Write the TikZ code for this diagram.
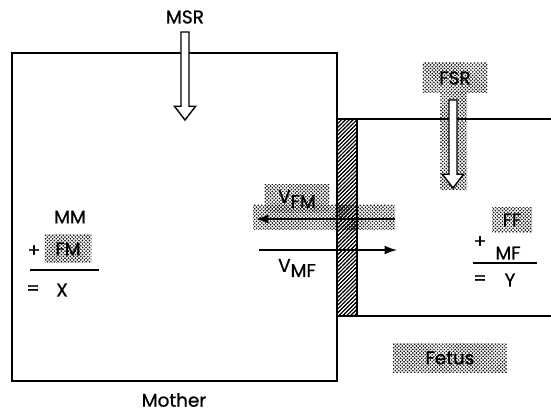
\documentclass[tikz,border=0pt]{standalone}
\usepackage{fontspec}
\setsansfont{Poppins}[BoldFont=Poppins,BoldFeatures={FakeBold=0.9}]
\usepackage{tikz}
\usetikzlibrary{arrows.meta,calc,patterns}
\pgfdeclarepatternformonly{stipple}{\pgfqpoint{-.5pt}{-.5pt}}{\pgfqpoint{1.5pt}{1.5pt}}{\pgfqpoint{2pt}{2pt}}{%
  \pgfpathcircle{\pgfqpoint{0pt}{0pt}}{.55pt}%
  \pgfpathcircle{\pgfqpoint{1pt}{1pt}}{.55pt}%
  \pgfusepath{fill}}
\pgfdeclarepatternformonly{finehatch}{\pgfqpoint{-1pt}{-1pt}}{\pgfqpoint{3.2pt}{3.2pt}}{\pgfqpoint{2.2pt}{2.2pt}}{%
  \pgfsetlinewidth{0.55pt}%
  \pgfpathmoveto{\pgfqpoint{-1pt}{-1pt}}\pgfpathlineto{\pgfqpoint{3.2pt}{3.2pt}}%
  \pgfusepath{stroke}}
\newcommand{\hollowdown}[2]{%
  \draw[hollow] let \p1=(#1), \p2=(#2) in
    (\x1-2.3pt,\y1) -- (\x1-2.3pt,\y2+7.8pt) -- (\x1-6pt,\y2+7.8pt) -- (\x1,\y2)
    -- (\x1+6pt,\y2+7.8pt) -- (\x1+2.3pt,\y2+7.8pt) -- (\x1+2.3pt,\y1) -- cycle;}

\begin{document}
\begin{tikzpicture}[
  x=0.02cm,y=-0.02cm,
  every node/.style={font=\sffamily\bfseries\fontsize{10.5}{12}\selectfont,inner sep=0pt},
  wall/.style={line width=0.9pt},
  shade/.style={pattern=stipple,pattern color=black!90},
  hollow/.style={draw,fill=white,line width=0.8pt,line join=miter},
  flow/.style={-{Latex[length=7pt,width=5pt]},line width=0.8pt},
  rule/.style={line width=0.6pt}
]
\useasboundingbox (0,0) rectangle (551,411);
% shaded backgrounds
\fill[shade] (253,205) rectangle (395,230);
\fill[shade] (440,93) rectangle (467,190);
% compartments
\draw[wall] (12,53) rectangle (337,381);
\draw[wall] (337,119) -- (551,119);
\draw[wall] (337,316) -- (551,316);
\draw[wall,pattern=finehatch] (337,119) rectangle (357,316);
% labels
\node (msr) at (185,17) {MSR};
\node[shade,minimum width=1.3cm,minimum height=0.6cm] (fsr) at (455,78) {FSR};
\node (mother) at (174,400) {Mother};
\node[shade,minimum width=2.28cm,minimum height=0.58cm] (fetus) at (450,358) {Fetus};
\node[shade,minimum width=1.3cm,minimum height=0.56cm] (vfm) at (297,199) {V\raisebox{-.5ex}{FM}};
\node (vmf) at (297,268) {V\raisebox{-.5ex}{MF}};
% maternal balance
\node (mm) at (70,217) {MM};
\node (plusm) at (34,251) {+};
\node[shade,minimum width=0.94cm,minimum height=0.56cm] (fm) at (68,249) {FM};
\node (eqm) at (33,290) {=};
\node (xm) at (62,290) {X};
\draw[rule] (30,270) -- (99,270);
% fetal balance
\node[shade,minimum width=0.8cm,minimum height=0.5cm] (ff) at (512,220) {FF};
\node (plusf) at (480,242) {+};
\node (mf) at (508,253) {MF};
\node (eqf) at (480,280) {=};
\node (yf) at (510,280) {Y};
\draw[rule] (473,263) -- (537,263);
% fluxes
\coordinate (msrtop) at (185,32);
\coordinate (msrtip) at (185,120);
\coordinate (fsrtop) at (453,100);
\coordinate (fsrtip) at (453,188);
\hollowdown{msrtop}{msrtip}
\hollowdown{fsrtop}{fsrtip}
\coordinate (vfmR) at (395,219);
\coordinate (vfmL) at (256,219);
\coordinate (vmfL) at (259,250);
\coordinate (vmfR) at (397,250);
\draw[flow] (vfmR) -- (vfmL);
\draw[flow] (vmfL) -- (vmfR);
\end{tikzpicture}
\end{document}
